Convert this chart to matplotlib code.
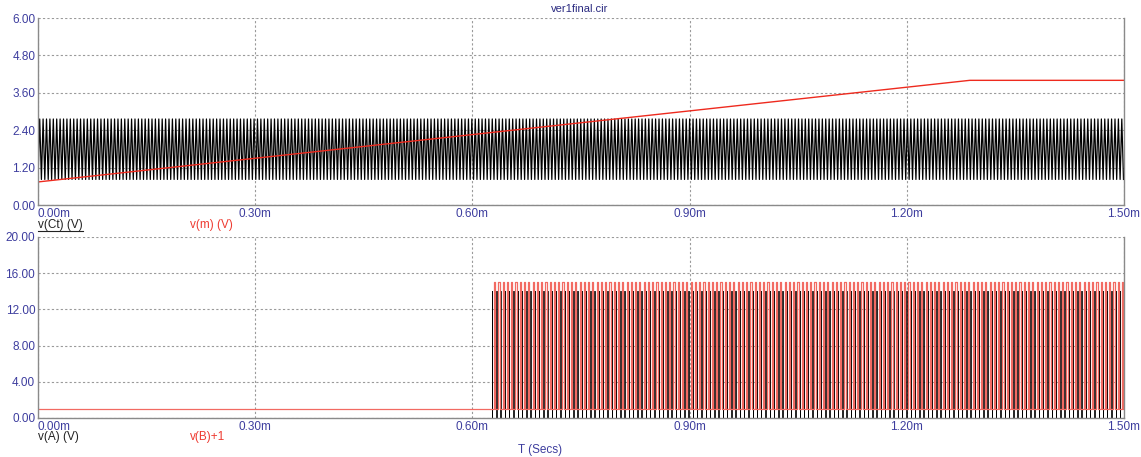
import numpy as np
import matplotlib
matplotlib.use("Agg")
import matplotlib.pyplot as plt
from matplotlib.lines import Line2D

plt.rcParams['font.family'] = ['Liberation Sans', 'DejaVu Sans']

# ---- values (time in ms) ----
t_end = 1.5
x_ticks = [0.0, 0.3, 0.6, 0.9, 1.2, 1.5]
top_yticks = [0.0, 1.2, 2.4, 3.6, 4.8, 6.0]
bot_yticks = [0.0, 4.0, 8.0, 12.0, 16.0, 20.0]

# v(Ct): oscillator ramp between two levels
osc_period = 0.0047
osc_levels = [0.82, 2.76]
osc_start = 0.0

# v(m): control voltage ramp
ramp_t = [0.0, 1.287, 1.5]
ramp_v = [0.74, 4.0, 4.0]

# v(A), v(B)+1: output pulses
pulse_start = 0.627
pulse_period = 0.0059
a_levels = [0.0, 14.0]
b_levels = [1.0, 15.0]
a_width = 0.0006
b_width = 0.0016

tick_col = '#3d3d9e'
grid_col = '#9a9a9a'

# ---- build waveforms from the values above ----
n_osc = int(round(t_end / osc_period))
osc_t = np.arange(2 * n_osc + 1) * osc_period / 2
osc_v = np.tile(osc_levels, n_osc + 1)[:len(osc_t)]
osc_t = np.concatenate([[0.0], osc_t])
osc_v = np.concatenate([[osc_start], osc_v])


def pulse_train(t0, width, levels):
    starts = np.arange(t0, t_end, pulse_period)
    tt = np.column_stack([starts, starts, starts + width, starts + width]).ravel()
    vv = np.tile([levels[0], levels[1], levels[1], levels[0]], len(starts))
    tt = np.concatenate([[0.0], tt, [t_end]])
    vv = np.concatenate([[levels[0]], vv, [levels[0]]])
    return tt, vv


a_t, a_v = pulse_train(pulse_start, a_width, a_levels)
b_t, b_v = pulse_train(pulse_start + pulse_period / 2, b_width, b_levels)

# ---- figure ----
fig = plt.figure(figsize=(11.41, 4.57), dpi=100)
W, H = 1141, 457
ax1 = fig.add_axes([38 / W, 1 - 205 / H, 1086 / W, 187 / H])
ax2 = fig.add_axes([38 / W, 1 - 418 / H, 1086 / W, 181 / H])


def style(ax, yticks):
    ax.set_xlim(0, t_end)
    ax.set_ylim(yticks[0], yticks[-1])
    ax.set_xticks(x_ticks)
    ax.set_xticklabels([f"{v:.2f}m" for v in x_ticks])
    ax.set_yticks(yticks)
    ax.set_yticklabels([f"{v:.2f}" for v in yticks])
    ax.tick_params(length=0, pad=2, labelsize=8.5, labelcolor=tick_col)
    ax.get_xticklabels()[0].set_horizontalalignment('left')
    ax.grid(True, color=grid_col, linestyle=(0, (2, 2)), linewidth=0.8)
    ax.set_axisbelow(True)
    ax.spines['top'].set_visible(False)
    for s in ['left', 'bottom', 'right']:
        ax.spines[s].set_color('#8a8a8a')
        ax.spines[s].set_linewidth(1.0)


style(ax1, top_yticks)
style(ax2, bot_yticks)

ax1.plot(osc_t, osc_v, color='black', lw=0.9)
ax1.plot(ramp_t, ramp_v, color='#ee2a1e', lw=1.0)

ax2.plot(a_t, a_v, color='black', lw=0.6)
ax2.plot(b_t, b_v, color='#f26a62', lw=0.9)

fig.text(580 / W, 1 - 9 / H, 'ver1final.cir', ha='center', va='center',
         fontsize=8, color='#2a2a80')
lbl = fig.text(38 / W, 1 - 225 / H, 'v(Ct) (V)', ha='left', va='center',
               fontsize=8.5, color='#222222')
fig.text(190 / W, 1 - 225 / H, 'v(m) (V)', ha='left', va='center',
         fontsize=8.5, color='#ee3a30')
fig.text(38 / W, 1 - 437 / H, 'v(A) (V)', ha='left', va='center',
         fontsize=8.5, color='#222222')
fig.text(190 / W, 1 - 437 / H, 'v(B)+1', ha='left', va='center',
         fontsize=8.5, color='#ee3a30')
fig.text(540 / W, 1 - 450 / H, 'T (Secs)', ha='center', va='center',
         fontsize=8.5, color=tick_col)

# underline the selected trace label
fig.canvas.draw()
bb = lbl.get_window_extent().transformed(fig.transFigure.inverted())
fig.add_artist(Line2D([bb.x0, bb.x1], [bb.y0, bb.y0], color='#222222',
                      lw=0.8, transform=fig.transFigure))

fig.savefig('out.png', dpi=100)
